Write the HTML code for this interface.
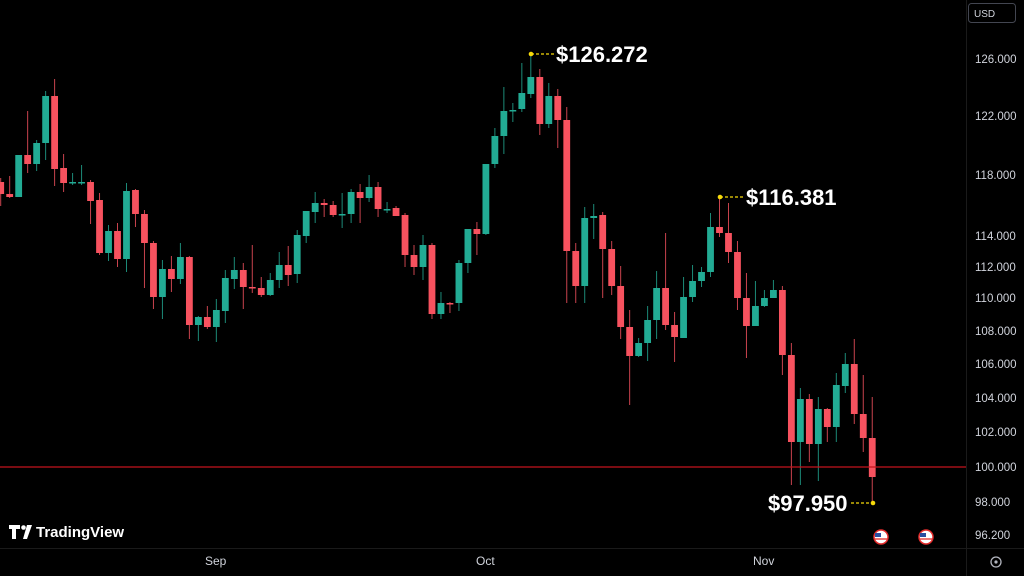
<!DOCTYPE html>
<html><head><meta charset="utf-8"><style>
html,body{margin:0;padding:0;background:#000;width:1024px;height:576px;overflow:hidden}
svg{display:block}
text{font-family:"Liberation Sans",sans-serif}
</style></head><body>
<svg id="s" width="1024" height="576" viewBox="0 0 1024 576" xmlns="http://www.w3.org/2000/svg">
<rect width="1024" height="576" fill="#000"/>
<g id="c"></g>
<line x1="0" y1="467" x2="966" y2="467" stroke="#c4141c" stroke-width="1.2"/>
<line x1="966.5" y1="0" x2="966.5" y2="576" stroke="#1a1a1a"/>
<line x1="0" y1="548.5" x2="1024" y2="548.5" stroke="#1a1a1a"/>
<g fill="#d1d4dc" font-size="11.5">
<text x="975" y="63">126.000</text>
<text x="975" y="120">122.000</text>
<text x="975" y="179">118.000</text>
<text x="975" y="240">114.000</text>
<text x="975" y="271">112.000</text>
<text x="975" y="302">110.000</text>
<text x="975" y="335">108.000</text>
<text x="975" y="368">106.000</text>
<text x="975" y="402">104.000</text>
<text x="975" y="436">102.000</text>
<text x="975" y="471">100.000</text>
<text x="975" y="506">98.000</text>
<text x="975" y="539">96.200</text>
<text x="205" y="565" font-size="12">Sep</text>
<text x="476" y="565" font-size="12">Oct</text>
<text x="753" y="565" font-size="12">Nov</text>
</g>
<rect x="968.5" y="3.5" width="47" height="19" rx="3" fill="none" stroke="#434651"/>
<text x="974" y="17" fill="#d1d4dc" font-size="10">USD</text>
<circle cx="996" cy="562" r="5" fill="none" stroke="#b2b5be" stroke-width="1.3"/>
<circle cx="996" cy="562" r="1.6" fill="#b2b5be"/>
<g fill="#fff" font-weight="bold" font-size="22">
<text x="556" y="62">$126.272</text>
<text x="746" y="205">$116.381</text>
<text x="768" y="511">$97.950</text>
</g>
<g stroke="#f5d90a" stroke-width="1.3" stroke-dasharray="3,2">
<line x1="531" y1="54" x2="554" y2="54"/>
<line x1="720" y1="197" x2="744" y2="197"/>
<line x1="851" y1="503" x2="873" y2="503"/>
</g>
<g fill="#f5d90a"><circle cx="531" cy="54" r="2.3"/><circle cx="720" cy="197" r="2.3"/><circle cx="873" cy="503" r="2.3"/></g>
<g>
<circle cx="881" cy="537" r="7" fill="#fff" stroke="#e32b2b" stroke-width="1.5"/>
<rect x="875" y="533" width="6" height="4" fill="#2a4ea0"/>
<line x1="875" y1="539" x2="887" y2="539" stroke="#e32b2b" stroke-width="1.3"/>
<circle cx="926" cy="537" r="7" fill="#fff" stroke="#e32b2b" stroke-width="1.5"/>
<rect x="920" y="533" width="6" height="4" fill="#2a4ea0"/>
<line x1="920" y1="539" x2="932" y2="539" stroke="#e32b2b" stroke-width="1.3"/>
</g>
<g fill="#fff">
<path d="M9 525h11v4h-4v10h-4v-10h-3z"/>
<circle cx="23.5" cy="527.5" r="2.3"/>
<path d="M27 525h5l-5 14h-4z"/>
</g>
<text x="36" y="537" fill="#fff" font-size="15" font-weight="bold">TradingView</text>
</svg>
<script>
var d=[
['r',182,194,178,206],['r',194,197,176,198],['g',155,197,155,197],['r',155,164,111,173],['g',143,164,140,171],
['g',96,143,91,160],['r',96,169,79,186],['r',168,183,154,192],['g',182,183,173,185],['g',182,183,165,185],
['r',182,201,180,224],['r',200,253,193,255],['g',231,253,225,261],['r',231,259,223,267],['g',191,259,183,272],
['r',190,214,189,227],['r',214,243,210,288],['r',243,297,241,309],['g',269,297,260,319],['r',269,279,256,292],
['g',257,279,243,284],['r',257,325,256,339],['g',317,325,316,341],['r',317,327,306,329],['g',310,327,299,342],
['g',278,311,270,323],['g',270,279,257,289],['r',270,287,263,309],['r',287,288,245,293],['r',288,295,277,297],
['g',280,295,273,296],['g',265,280,252,288],['r',265,275,246,286],['g',235,274,230,283],['g',211,236,211,243],
['g',203,212,192,223],['r',203,205,199,217],['r',205,215,201,217],['g',214,215,193,228],['g',192,214,189,223],
['r',192,198,184,223],['g',187,198,175,202],['r',187,209,182,217],['g',209,210,202,213],['r',208,216,206,216],
['r',215,255,213,267],['r',255,267,245,275],['g',245,267,235,280],['r',245,314,243,319],['g',303,314,292,319],
['r',303,304,302,313],['g',263,303,260,311],['g',229,263,229,273],['r',229,234,222,255],['g',164,234,164,235],
['g',136,164,128,168],['g',111,136,87,154],['g',110,111,103,122],['g',93,109,63,112],['g',77,94,54,98],
['r',77,124,69,135],['g',96,124,83,128],['r',96,120,89,148],['r',120,251,107,303],['r',251,286,243,303],
['g',218,286,207,303],['g',216,218,204,239],['r',215,249,212,298],['r',249,286,241,295],['r',286,327,266,339],
['r',327,356,310,405],['g',343,356,338,357],['g',320,343,306,361],['g',288,320,271,339],['r',288,325,233,330],
['r',325,337,312,362],['g',297,338,277,338],['g',281,297,265,302],['g',272,281,267,287],['g',227,272,213,277],
['r',227,233,197,237],['r',233,252,203,263],['r',252,298,241,310],['r',298,326,273,358],['g',306,326,281,326],
['g',298,306,290,307],['g',290,298,280,298],['r',290,355,286,375],['r',355,442,343,485],['g',399,442,388,485],
['r',399,444,394,462],['g',409,444,397,481],['r',409,427,408,442],['g',385,427,373,442],['g',364,386,353,393],
['r',364,414,339,424],['r',414,438,375,452],['r',438,477,397,503]];
var h='';
d.forEach(function(c,i){
 var x=0.7+8.985*i, col=c[0]=='g'?'#22ab94':'#f7525f', wc=c[0]=='g'?'#1c8a78':'#c9434e';
 h+='<line x1="'+x+'" y1="'+c[3]+'" x2="'+x+'" y2="'+c[4]+'" stroke="'+wc+'" stroke-width="1"/>';
 var hh=Math.max(1.5,c[2]-c[1]);
 h+='<rect x="'+(x-3.4)+'" y="'+c[1]+'" width="6.8" height="'+hh+'" fill="'+col+'"/>';
});
document.getElementById('c').innerHTML=h;
</script>
</body></html>
